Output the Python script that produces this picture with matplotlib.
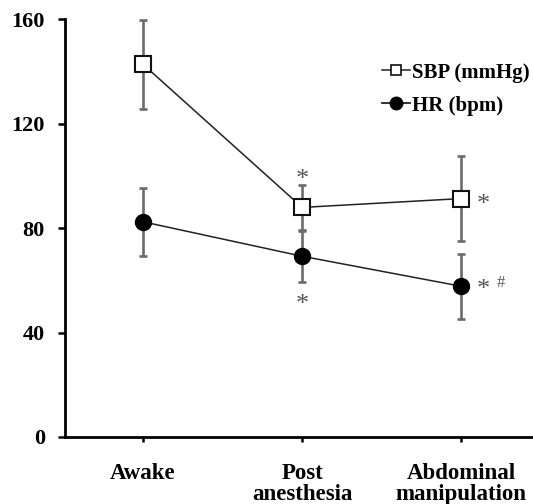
import matplotlib
matplotlib.use("Agg")
import matplotlib.pyplot as plt
from matplotlib.lines import Line2D

categories = ["Awake", "Post\nanesthesia", "Abdominal\nmanipulation"]
sbp = [142.7, 87.9, 91.3]
sbp_err = [17.0, 8.5, 16.2]
hr = [82.4, 69.2, 57.7]
hr_err = [13.0, 9.8, 12.5]
yticks = [0, 40, 80, 120, 160]

plt.rcParams['font.family'] = ['Liberation Serif', 'DejaVu Serif']
plt.rcParams['font.weight'] = 'bold'

fig = plt.figure(figsize=(5.33, 5.04), dpi=100)
ax = fig.add_axes([0.122, 0.133, 0.878, 0.829])
x = list(range(len(categories)))

ecol = '#6b6b6b'
ekw = dict(fmt='none', ecolor=ecol, elinewidth=1.9, capsize=3, capthick=1.9, zorder=2)
ax.errorbar(x, sbp, yerr=sbp_err, **ekw)
ax.errorbar(x, hr, yerr=hr_err, **ekw)
ax.plot(x, sbp, color='#222222', lw=1.1, marker='s', ms=11, mfc='white', mec='#111111', mew=1.5, zorder=3)
ax.plot(x, hr, color='#222222', lw=1.1, marker='o', ms=11.5, mfc='black', mec='black', zorder=3)

star_kw = dict(color='#555555', fontsize=19, ha='center', va='baseline', fontweight='normal',
               textcoords='offset points')
ax.annotate('*', xy=(x[1], sbp[1] + 13.6), xytext=(0, -10.5), **star_kw)
ax.annotate('*', xy=(x[1], hr[1] - 15.3), xytext=(0, -10.5), **star_kw)
ax.annotate('*', xy=(x[2] + 0.14, sbp[2] + 1), xytext=(0, -10.5), **star_kw)
ax.annotate('*', xy=(x[2] + 0.14, hr[2] + 2), xytext=(0, -10.5), **star_kw)
ax.annotate('#', xy=(x[2] + 0.25, hr[2] + 1.7), xytext=(0, -4), color='#555555', fontsize=12,
            ha='center', va='baseline', fontweight='normal', textcoords='offset points')

ax.set_xlim(-0.49, 2.45)
ax.set_ylim(0, 160)
ax.set_yticks(yticks)
ax.set_yticklabels([str(v) for v in yticks], fontsize=16, fontweight='bold')
ax.set_xticks(x)
ax.set_xticklabels(categories, fontsize=16.5, fontweight='bold', linespacing=1.0)
for s in ['top', 'right']:
    ax.spines[s].set_visible(False)
for s in ['left', 'bottom']:
    ax.spines[s].set_linewidth(2)
ax.tick_params(axis='y', width=1.8, length=5, direction='out', pad=9.5)
ax.tick_params(axis='x', width=1.8, length=3.5, direction='out', pad=15.5)

handles = [
    Line2D([], [], color='#222222', lw=1.1, marker='s', ms=7.5, mfc='white', mec='#111111', mew=1.2),
    Line2D([], [], color='#222222', lw=1.3, marker='o', ms=9, mfc='black', mec='black'),
]
ax.legend(handles, ['SBP (mmHg)', 'HR (bpm)'], loc='upper left', bbox_to_anchor=(0.681, 0.913),
          bbox_transform=fig.transFigure, frameon=False, handlelength=1.35, handletextpad=0.1,
          labelspacing=0.63, prop={'family': 'Liberation Serif', 'weight': 'bold', 'size': 15})

fig.savefig('out.png', dpi=100)
